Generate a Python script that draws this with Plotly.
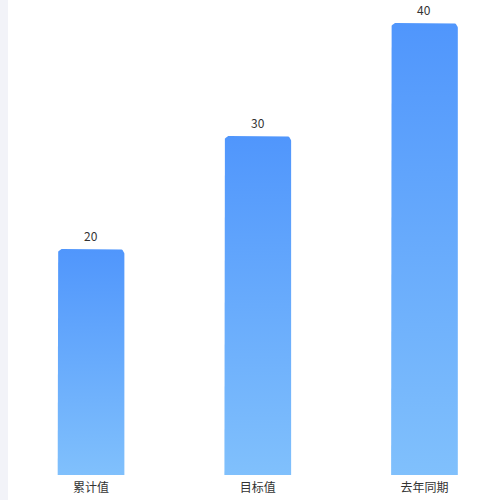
import numpy as np
import plotly.graph_objects as go

# chart data
categories = ["累计值", "目标值", "去年同期"]
values = [20, 30, 40]

top_color = "#5096fc"
bottom_color = "#80c0fc"
bar_width = 0.4
corner_px = 5

# layout geometry (used to turn pixel radius into data units)
W, H = 500, 500
margin = dict(l=8, r=0, t=10, b=25)
x_range = [-0.498, 2.453]
y_range = [0, 41.15]
px_x = (W - margin["l"] - margin["r"]) / (x_range[1] - x_range[0])
px_y = (H - margin["t"] - margin["b"]) / (y_range[1] - y_range[0])
rx, ry = corner_px / px_x, corner_px / px_y

fig = go.Figure()

t = np.linspace(0, np.pi / 2, 8)
for i, v in enumerate(values):
    x0, x1 = i - bar_width / 2, i + bar_width / 2
    # left side, rounded top-left, top, rounded top-right, right side
    xs = [x0] + list(x0 + rx - rx * np.cos(t)) + list(x1 - rx + rx * np.sin(t)) + [x1, x0]
    ys = [0] + list(v - ry + ry * np.sin(t)) + list(v - ry + ry * np.cos(t)) + [0, 0]
    fig.add_trace(go.Scatter(
        x=xs, y=ys, mode="lines", fill="toself",
        line=dict(width=0),
        fillgradient=dict(type="vertical",
                          colorscale=[[0, bottom_color], [1, top_color]]),
        hoverinfo="skip", showlegend=False
    ))
    fig.add_annotation(x=i, y=v, text=str(v), showarrow=False,
                       yanchor="bottom", yshift=3,
                       font=dict(size=12, color="#333333"))

# grey strip on the left edge
fig.add_shape(type="rect", xref="paper", yref="paper", xsizemode="pixel",
              xanchor=0, x0=-8, x1=0, y0=-0.1, y1=1.1,
              fillcolor="#f2f3f8", line=dict(width=0), layer="below")

fig.update_layout(
    width=W, height=H, margin=margin,
    paper_bgcolor="white", plot_bgcolor="white",
    font=dict(family="Noto Sans CJK SC, sans-serif", size=12, color="#333333"),
    xaxis=dict(range=x_range, tickmode="array", tickvals=list(range(len(categories))),
               ticktext=categories, showgrid=False, zeroline=False, showline=False,
               ticks="", ticklabelstandoff=4),
    yaxis=dict(range=y_range, visible=False, showgrid=False, zeroline=False),
    showlegend=False
)

fig.write_html("out.html", config={"displayModeBar": False},
               post_script="document.body.style.margin='0';")
